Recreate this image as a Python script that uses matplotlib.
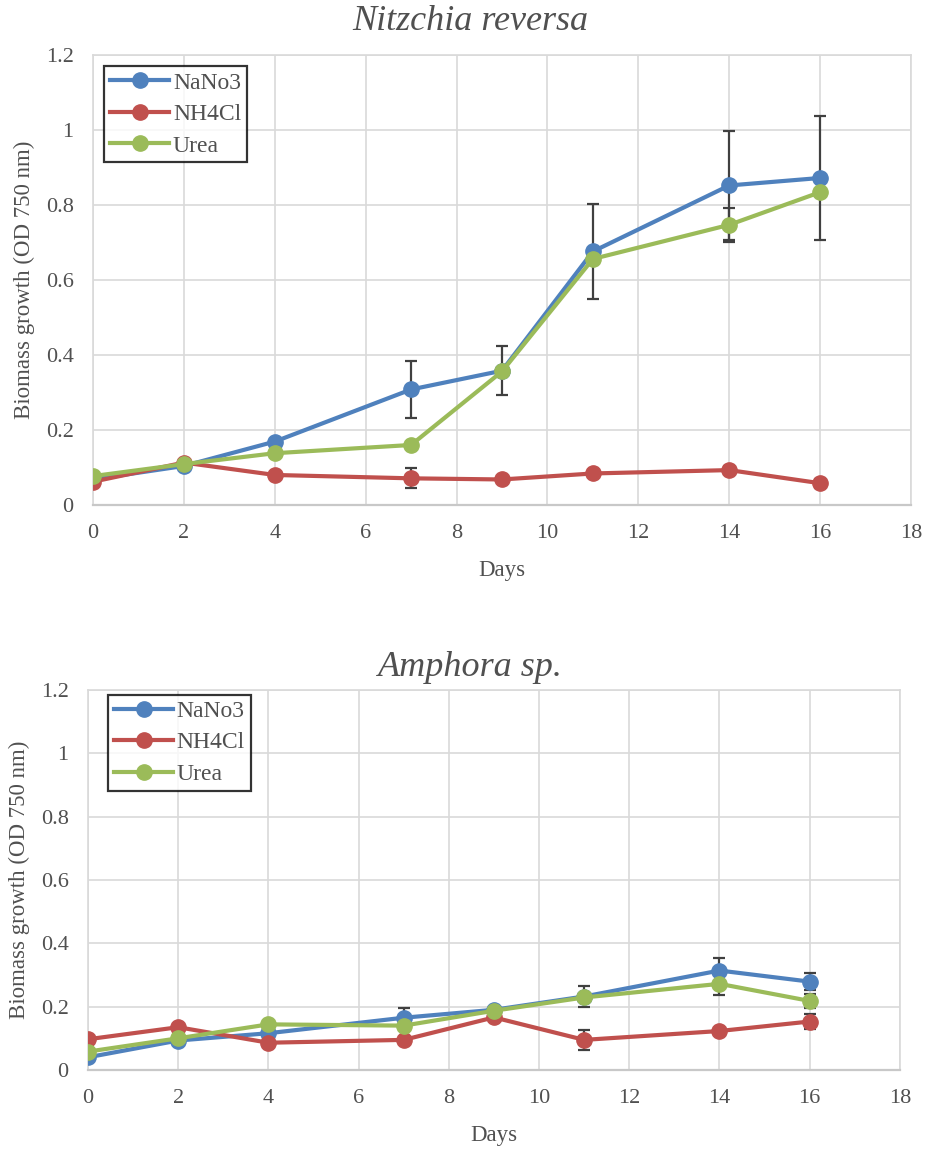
import matplotlib.pyplot as plt
import numpy as np

plt.rcParams['font.family'] = ['Liberation Serif', 'DejaVu Serif']

days = [0, 2, 4, 7, 9, 11, 14, 16]
labels = ['NaNo3', 'NH4Cl', 'Urea']
colors = ['#4F81BD', '#C0504D', '#9BBB59']

# Nitzchia reversa
nitz_nano3 = [0.068, 0.104, 0.169, 0.308, 0.358, 0.676, 0.852, 0.872]
nitz_nh4cl = [0.062, 0.113, 0.080, 0.071, 0.068, 0.084, 0.093, 0.058]
nitz_urea = [0.077, 0.109, 0.138, 0.160, 0.356, 0.656, 0.747, 0.834]
nitz_nano3_err = [0.0, 0.0, 0.0, 0.075, 0.065, 0.127, 0.146, 0.166]
nitz_nh4cl_err = [0.0, 0.0, 0.0, 0.027, 0.0, 0.0, 0.010, 0.012]
nitz_urea_err = [0.0, 0.0, 0.0, 0.0, 0.0, 0.0, 0.045, 0.0]

# Amphora sp.
amph_nano3 = [0.040, 0.093, 0.116, 0.165, 0.190, 0.232, 0.314, 0.279]
amph_nh4cl = [0.097, 0.135, 0.086, 0.095, 0.166, 0.095, 0.123, 0.153]
amph_urea = [0.058, 0.100, 0.144, 0.140, 0.187, 0.229, 0.272, 0.218]
amph_nano3_err = [0.0, 0.0, 0.0, 0.032, 0.0, 0.033, 0.039, 0.028]
amph_nh4cl_err = [0.0, 0.0, 0.0, 0.0, 0.0, 0.032, 0.0, 0.025]
amph_urea_err = [0.0, 0.0, 0.0, 0.0, 0.0, 0.0, 0.035, 0.022]

fig = plt.figure(figsize=(9.29, 11.5), dpi=100)
ax1 = fig.add_axes([0.1001, 0.5609, 0.8805, 0.3913])
ax2 = fig.add_axes([0.0947, 0.0696, 0.874, 0.3304])

panels = [
    (ax1, 'Nitzchia reversa', [nitz_nano3, nitz_nh4cl, nitz_urea],
     [nitz_nano3_err, nitz_nh4cl_err, nitz_urea_err], 0.981, (0.014, 0.975)),
    (ax2, 'Amphora sp.', [amph_nano3, amph_nh4cl, amph_urea],
     [amph_nano3_err, amph_nh4cl_err, amph_urea_err], 0.42, (0.025, 0.988)),
]

for ax, title, series, errs, ty, lpos in panels:
    for vals, err, c, lab in zip(series, errs, colors, labels):
        err = np.array(err)
        mask = err > 0
        ax.errorbar(np.array(days)[mask], np.array(vals)[mask], yerr=err[mask],
                    fmt='none', ecolor='#404040', elinewidth=1.6, capsize=4.5,
                    capthick=1.6, zorder=2)
        ax.plot(days, vals, color=c, lw=3, marker='o', ms=11, label=lab,
                zorder=3)
    ax.set_xlim(0, 18)
    ax.set_ylim(0, 1.2)
    ax.set_xticks(range(0, 19, 2))
    ax.set_yticks(np.arange(0, 1.21, 0.2))
    ax.set_yticklabels(['0', '0.2', '0.4', '0.6', '0.8', '1', '1.2'])
    ax.grid(True, color='#D9D9D9', lw=1.2)
    ax.set_axisbelow(True)
    for s in ax.spines.values():
        s.set_color('#D9D9D9')
        s.set_linewidth(1.2)
    ax.spines['bottom'].set_color('#C8C8C8')
    ax.spines['bottom'].set_linewidth(1.6)
    ax.tick_params(length=0, labelsize=16, labelcolor='#505050')
    ax.tick_params(axis='y', pad=14)
    ax.tick_params(axis='x', pad=14)
    ax.set_xlabel('Days', fontsize=16.5, color='#505050', labelpad=12)
    ax.set_ylabel('Biomass growth (OD 750 nm)', fontsize=16.5, color='#505050',
                  labelpad=8)
    leg = ax.legend(loc='upper left', fontsize=17, frameon=True, fancybox=False,
                    edgecolor='black', borderpad=0.25, handlelength=2.5,
                    handletextpad=0.15, labelspacing=0.42, borderaxespad=0,
                    bbox_to_anchor=lpos)
    leg.get_frame().set_linewidth(1.6)
    for t in leg.get_texts():
        t.set_color('#505050')
    fig.text(0.506, ty, title, ha='center', va='center', fontsize=26,
             style='italic', color='#505050')

fig.savefig('out.png', dpi=100)
